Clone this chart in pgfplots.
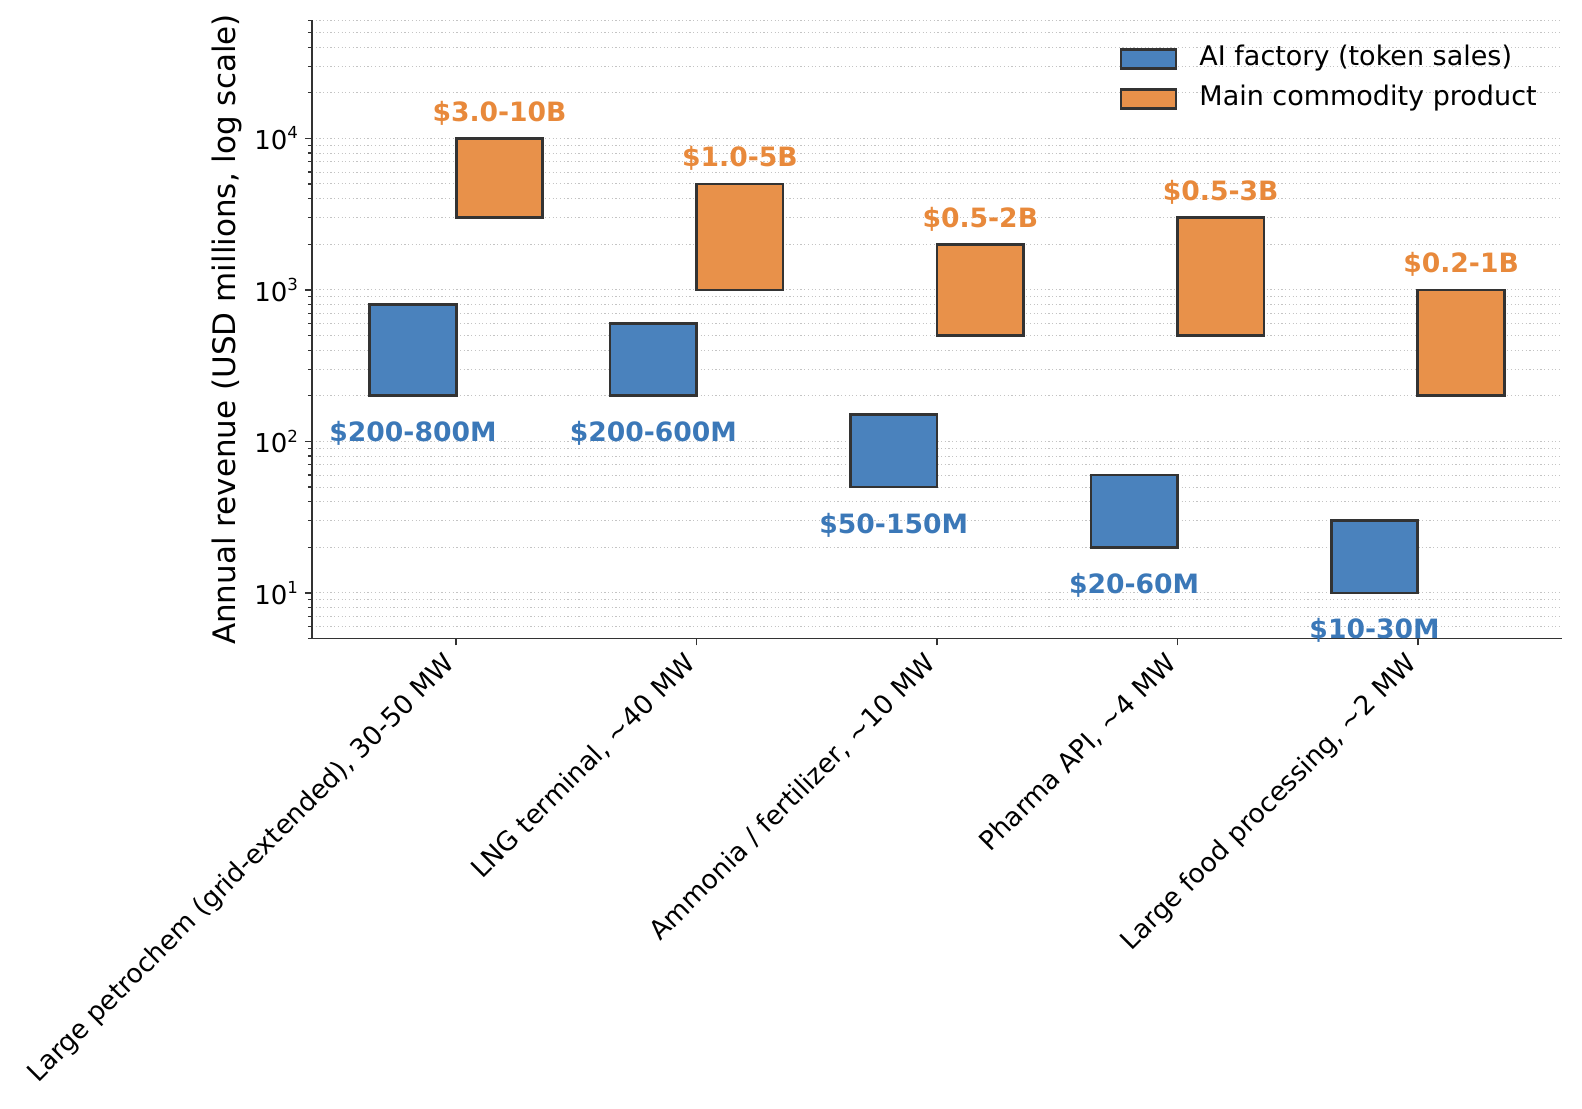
\documentclass[border=0pt]{standalone}
\usepackage{fontspec}
\setmainfont{DejaVu Sans}
\usepackage{pgfplots}
\pgfplotsset{compat=1.18}

\definecolor{aifill}{HTML}{4A82BD}
\definecolor{aitext}{HTML}{3B78B8}
\definecolor{comfill}{HTML}{E8914A}
\definecolor{comtext}{HTML}{E8893B}
\definecolor{edgegray}{HTML}{333333}
\definecolor{gridgray}{HTML}{C4C4C4}

% power-of-ten tick label, matplotlib style
\newcommand\pw[1]{10\raisebox{5.3pt}{\fontsize{8.3}{10}\selectfont #1}}

\begin{document}
\begin{tikzpicture}
\begin{axis}[
    scale only axis, width=625pt, height=309pt,
    xmin=-0.6, xmax=4.6,
    ymode=log, ymin=5, ymax=60000,
    axis x line=bottom, axis y line=left,
    axis line style={-, draw=edgegray, line width=0.8pt},
    clip=false,
    tick align=outside,
    major tick length=3.5pt, minor tick length=2pt,
    tick style={draw=edgegray, line width=0.8pt},
    minor tick style={line width=0.6pt},
    xtick={0,1,2,3,4},
    xticklabels={{Large petrochem (grid-extended), 30-50 MW},
                 {LNG terminal, \textasciitilde40 MW},
                 {Ammonia / fertilizer, \textasciitilde10 MW},
                 {Pharma API, \textasciitilde4 MW},
                 {Large food processing, \textasciitilde2 MW}},
    x tick label style={xshift=-7pt, rotate=45, anchor=north east, inner sep=1.8pt,
                        font=\fontsize{13.2}{16}\selectfont},
    ytick={10,100,1000,10000},
    yticklabels={\pw{1},\pw{2},\pw{3},\pw{4}},
    minor ytick={5,6,7,8,9,20,30,40,50,60,70,80,90,200,300,400,500,600,700,800,900,
                 2000,3000,4000,5000,6000,7000,8000,9000,20000,30000,40000,50000,60000},
    y tick label style={font=\fontsize{13}{15}\selectfont},
    ymajorgrids, yminorgrids,
    major grid style={draw=gridgray, line width=0.5pt, dash pattern=on 0.6pt off 1.25pt},
    minor grid style={draw=gridgray, line width=0.5pt, dash pattern=on 0.6pt off 1.25pt},
    every axis y label/.style={at={(axis description cs:0,0.5)}, xshift=-38pt, rotate=90, anchor=base},
    ylabel={Annual revenue (USD millions, log scale)},
    ylabel style={font=\fontsize{15.5}{18}\selectfont},
    legend style={at={(1,1)}, anchor=north east, xshift=-12.5pt, yshift=-12.5pt,
                  draw=none, fill=none, inner sep=0pt, row sep=7pt, column sep=11pt,
                  font=\fontsize{13.5}{16}\selectfont,
                  nodes={inner sep=0pt, text height=10pt, text depth=3pt}},
    legend cell align=left,
    legend image code/.code={\draw[#1, line width=1.3pt] (0pt,-4.75pt) rectangle (27.5pt,4.75pt);},
]

% AI factory (token sales): low / high, USD millions
\addplot[draw=edgegray, fill=aifill, line width=1.3pt, line join=miter, forget plot]
  coordinates {(-0.36,200) (0,200) (0,800) (-0.36,800)} -- cycle;
\addplot[draw=edgegray, fill=aifill, line width=1.3pt, line join=miter, forget plot]
  coordinates {(0.64,200) (1,200) (1,600) (0.64,600)} -- cycle;
\addplot[draw=edgegray, fill=aifill, line width=1.3pt, line join=miter, forget plot]
  coordinates {(1.64,50) (2,50) (2,150) (1.64,150)} -- cycle;
\addplot[draw=edgegray, fill=aifill, line width=1.3pt, line join=miter, forget plot]
  coordinates {(2.64,20) (3,20) (3,60) (2.64,60)} -- cycle;
\addplot[draw=edgegray, fill=aifill, line width=1.3pt, line join=miter, forget plot]
  coordinates {(3.64,10) (4,10) (4,30) (3.64,30)} -- cycle;

% main commodity product
\addplot[draw=edgegray, fill=comfill, line width=1.3pt, line join=miter, forget plot]
  coordinates {(0,3000) (0.36,3000) (0.36,10000) (0,10000)} -- cycle;
\addplot[draw=edgegray, fill=comfill, line width=1.3pt, line join=miter, forget plot]
  coordinates {(1,1000) (1.36,1000) (1.36,5000) (1,5000)} -- cycle;
\addplot[draw=edgegray, fill=comfill, line width=1.3pt, line join=miter, forget plot]
  coordinates {(2,500) (2.36,500) (2.36,2000) (2,2000)} -- cycle;
\addplot[draw=edgegray, fill=comfill, line width=1.3pt, line join=miter, forget plot]
  coordinates {(3,500) (3.36,500) (3.36,3000) (3,3000)} -- cycle;
\addplot[draw=edgegray, fill=comfill, line width=1.3pt, line join=miter, forget plot]
  coordinates {(4,200) (4.36,200) (4.36,1000) (4,1000)} -- cycle;

% range labels
\addplot[only marks, mark=*, mark size=0pt, mark options={draw=none, fill=none}, forget plot,
  nodes near coords, point meta=explicit symbolic,
  every node near coord/.append style={anchor=base, inner sep=0pt, yshift=-23pt,
    text=aitext, font=\bfseries\fontsize{13.3}{16}\selectfont}]
  coordinates {(-0.18,200) [\$200-800M] (0.82,200) [\$200-600M] (1.82,50) [\$50-150M]
               (2.82,20) [\$20-60M] (3.82,10) [\$10-30M]};
\addplot[only marks, mark=*, mark size=0pt, mark options={draw=none, fill=none}, forget plot,
  nodes near coords, point meta=explicit symbolic,
  every node near coord/.append style={anchor=base, inner sep=0pt, yshift=8.5pt,
    text=comtext, font=\bfseries\fontsize{13.3}{16}\selectfont}]
  coordinates {(0.18,10000) [\$3.0-10B] (1.18,5000) [\$1.0-5B] (2.18,2000) [\$0.5-2B]
               (3.18,3000) [\$0.5-3B] (4.18,1000) [\$0.2-1B]};

\addlegendimage{draw=edgegray, fill=aifill}
\addlegendentry{AI factory (token sales)}
\addlegendimage{draw=edgegray, fill=comfill}
\addlegendentry{Main commodity product}
\end{axis}
\pgfresetboundingbox
\useasboundingbox (-156pt,-234.75pt) rectangle (635pt,319.25pt);
\end{tikzpicture}
\end{document}
